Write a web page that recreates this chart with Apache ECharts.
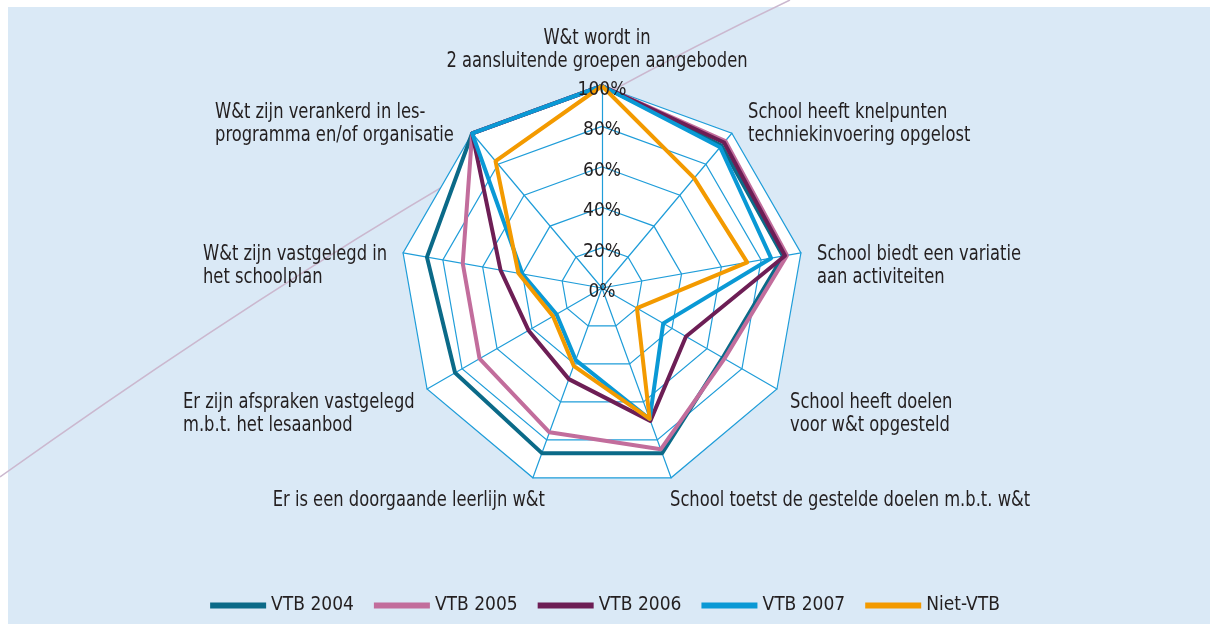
<!DOCTYPE html>
<html>
<head>
<meta charset="utf-8">
<script src="https://cdn.jsdelivr.net/npm/echarts@6/dist/echarts.min.js"></script>
<style>
  html, body { margin: 0; padding: 0; background: #fff; }
  #chart { width: 1210px; height: 624px; }
</style>
</head>
<body>
<div id="chart"></div>
<script>
// indicatoren, met de klok mee vanaf boven
const indicators = [
  'W&t wordt in\n2 aansluitende groepen aangeboden',
  'School heeft knelpunten\ntechniekinvoering opgelost',
  'School biedt een variatie\naan activiteiten',
  'School heeft doelen\nvoor w&t opgesteld',
  'School toetst de gestelde doelen m.b.t. w&t',
  'Er is een doorgaande leerlijn w&t',
  'Er zijn afspraken vastgelegd\nm.b.t. het lesaanbod',
  'W&t zijn vastgelegd in\nhet schoolplan',
  'W&t zijn verankerd in les-\nprogramma en/of organisatie'
]
const seriesNames = ['VTB 2004', 'VTB 2005', 'VTB 2006', 'VTB 2007', 'Niet-VTB']
const vtb2004 = [100, 92, 91, 69, 87, 87, 84, 88, 100]
const vtb2005 = [100, 95, 93, 70, 85, 76, 70, 70, 100]
const vtb2006 = [100, 94, 92, 48, 70, 48, 42, 51, 100]
const vtb2007 = [100, 91, 85, 35, 69, 38, 26, 40, 100]
const nietVtb = [100, 71, 73, 20, 69, 41, 28, 42, 82]
const ticks = [0, 20, 40, 60, 80, 100]

const colors = ['#0b6a88', '#c26d9c', '#6d1e55', '#0a99d5', '#f39a00']
const font = "'DejaVu Sans Condensed', 'Liberation Sans Narrow', sans-serif"
const textColor = '#231f20'
const gridColor = '#1f9dd9'
const center = [602, 288]
const radius = 202

// echarts zet de assen tegen de klok in, dus de volgorde omdraaien
const order = [0, 8, 7, 6, 5, 4, 3, 2, 1]
const reorder = arr => order.map(i => arr[i])

// plaats van de namen rond het web
const namePos = [
  { x: 597, y: 27, align: 'center' },
  { x: 748, y: 101, align: 'left' },
  { x: 817, y: 243, align: 'left' },
  { x: 790, y: 391, align: 'left' },
  { x: 670, y: 489, align: 'left' },
  { x: 545, y: 489, align: 'right' },
  { x: 183, y: 391, align: 'left' },
  { x: 203, y: 243, align: 'left' },
  { x: 215, y: 101, align: 'left' }
]

const allData = [vtb2004, vtb2005, vtb2006, vtb2007, nietVtb]

const myChart = echarts.init(document.getElementById('chart'))
const option = {
  backgroundColor: '#fff',
  animation: false,
  color: colors,
  graphic: [
    {
      type: 'rect',
      z: -10,
      shape: { x: 8, y: 7, width: 1202, height: 617 },
      style: { fill: '#dae9f6' }
    },
    {
      type: 'bezierCurve',
      z: -5,
      shape: { x1: 790, y1: 0, cpx1: 423, cpy1: 175, x2: 0, y2: 477 },
      style: { stroke: '#cbb8cf', lineWidth: 1.5, fill: null }
    }
  ].concat(indicators.map((name, i) => ({
    type: 'text',
    z: 10,
    x: namePos[i].x,
    y: namePos[i].y,
    scaleX: 0.865,
    style: {
      text: name,
      fill: textColor,
      font: '21px ' + font,
      textAlign: namePos[i].align,
      textVerticalAlign: 'top',
      lineHeight: 23
    }
  }))),
  legend: {
    top: 591,
    left: 'center',
    icon: 'rect',
    itemWidth: 56,
    itemHeight: 6,
    itemGap: 20,
    data: seriesNames,
    textStyle: { fontSize: 19, color: textColor, fontFamily: font }
  },
  radar: {
    center: center,
    radius: radius,
    startAngle: 90,
    shape: 'polygon',
    splitNumber: 5,
    indicator: reorder(indicators).map(n => ({ name: n, min: 0, max: 100 })),
    axisName: { show: false },
    axisLine: { lineStyle: { color: gridColor, width: 1.2 } },
    splitLine: { lineStyle: { color: gridColor, width: 1.2 } },
    splitArea: { show: true, areaStyle: { color: ['#ffffff'] } }
  },
  // percentages langs de bovenste as, iets onder de ringen
  polar: { center: [center[0], center[1] + 4], radius: radius },
  angleAxis: { type: 'value', min: 0, max: 360, startAngle: 90, show: false },
  radiusAxis: {
    type: 'value',
    min: ticks[0],
    max: ticks[ticks.length - 1],
    interval: ticks[1] - ticks[0],
    z: 5,
    axisLine: { show: false },
    axisTick: { show: false },
    splitLine: { show: false },
    axisLabel: {
      formatter: v => v + '%',
      color: textColor,
      fontSize: 19,
      fontFamily: font,
      align: 'center',
      verticalAlign: 'middle',
      margin: 0
    }
  },
  series: [{
    type: 'radar',
    symbol: 'none',
    z: 3,
    data: allData.map((vals, i) => ({
      name: seriesNames[i],
      value: reorder(vals),
      lineStyle: { color: colors[i], width: 4 },
      itemStyle: { color: colors[i] }
    }))
  }]
}
myChart.setOption(option)
</script>
</body>
</html>
